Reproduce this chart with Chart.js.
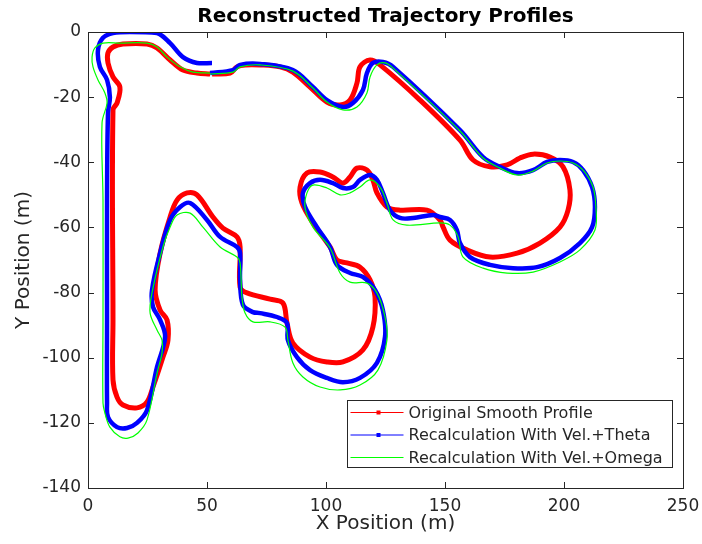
<!DOCTYPE html>
<html>
<head>
<meta charset="utf-8">
<script src="https://cdn.jsdelivr.net/npm/chart.js@4/dist/chart.umd.min.js"></script>
<style>
	html, body { margin: 0; padding: 0; background: #fff; }
	#wrap { width: 702px; height: 544px; }
</style>
</head>
<body>
<div id="wrap"><canvas id="trayectoria" width="702" height="544"></canvas></div>
<script>
// ejes
var xTicks = [0, 50, 100, 150, 200, 250];
var yTicks = [0, -20, -40, -60, -80, -100, -120, -140];

// perfil original (rojo)
var origX = [52.1, 59.7, 62.6, 66.0, 72.3, 80.7, 86.1, 93.3, 100.4, 105.9, 110.1, 113.0, 114.3, 118.5, 122.7, 139.5, 156.3, 161.8, 168.9, 176.1, 181.5, 187.0, 194.1, 199.6, 202.5, 201.7, 198.3, 189.9, 180.3, 168.9, 159.2, 152.1, 149.2, 147.9, 142.4, 131.1, 125.6, 121.4, 119.7, 117.2, 113.0, 110.1, 107.1, 102.9, 97.5, 92.0, 89.1, 89.9, 94.5, 101.7, 104.6, 108.8, 114.3, 118.5, 120.6, 119.7, 115.5, 107.1, 100.4, 93.3, 86.1, 83.6, 81.9, 76.5, 66.8, 63.9, 63.9, 62.6, 56.7, 52.5, 45.8, 41.6, 37.4, 34.5, 30.3, 28.2, 30.3, 33.2, 33.6, 31.5, 27.3, 24.8, 20.6, 14.7, 12.2, 10.5, 10.5, 10.5, 12.2, 13.4, 10.5, 8.4, 8.4, 10.5, 14.7, 24.8, 29.0, 34.5, 39.9, 45.8, 51.3];
var origY = [-12.9, -12.6, -10.7, -10.1, -10.1, -10.7, -12.3, -16.9, -21.5, -22.4, -20.9, -15.7, -10.7, -8.6, -10.1, -20.9, -33.2, -39.3, -41.4, -40.8, -38.7, -37.5, -38.4, -41.4, -48.5, -54.7, -59.9, -64.8, -67.9, -69.1, -66.9, -63.9, -59.9, -57.7, -54.7, -54.7, -53.7, -49.4, -45.4, -42.4, -41.8, -44.5, -46.4, -44.5, -43.0, -43.3, -47.6, -52.5, -58.6, -66.0, -70.0, -70.9, -72.2, -76.1, -81.4, -90.6, -97.6, -101.3, -101.3, -99.8, -95.5, -89.3, -83.2, -82.0, -80.1, -78.3, -66.0, -62.9, -60.2, -56.8, -50.0, -49.4, -51.6, -56.8, -67.9, -79.2, -85.4, -88.4, -94.6, -99.8, -109.0, -113.6, -115.4, -114.5, -112.1, -106.8, -88.4, -23.9, -21.8, -16.9, -13.8, -9.5, -6.4, -4.6, -3.7, -3.7, -4.9, -8.6, -11.7, -12.6, -12.9];

// recalculo con vel + theta (azul)
var thetaX = [51.3, 60.9, 63.9, 72.3, 86.1, 94.5, 100.4, 107.1, 111.3, 115.5, 117.2, 119.7, 123.9, 128.2, 156.3, 166.0, 173.1, 180.3, 187.0, 192.9, 198.3, 203.8, 208.0, 211.8, 213.0, 211.8, 206.7, 198.3, 188.7, 178.6, 168.9, 160.5, 156.3, 155.0, 152.1, 147.9, 145.0, 136.6, 131.1, 126.9, 123.9, 121.4, 118.5, 114.3, 111.3, 107.1, 102.9, 97.5, 93.3, 90.3, 91.2, 96.2, 101.7, 104.6, 110.1, 115.5, 120.6, 123.9, 124.8, 121.4, 114.3, 107.1, 100.4, 93.3, 87.8, 84.0, 83.6, 79.4, 72.3, 69.3, 65.1, 63.9, 63.9, 62.6, 55.5, 50.0, 42.9, 38.7, 34.5, 30.3, 26.9, 27.3, 30.3, 32.4, 29.0, 24.8, 20.6, 16.4, 12.2, 8.4, 8.0, 8.0, 8.0, 8.4, 9.2, 8.0, 5.0, 4.2, 6.3, 10.5, 17.6, 29.0, 34.5, 39.9, 45.8, 52.1];
var thetaY = [-12.6, -11.7, -10.1, -9.8, -11.7, -16.9, -20.9, -23.0, -21.8, -17.8, -12.6, -9.5, -9.2, -10.7, -30.1, -38.4, -41.4, -43.3, -42.4, -39.9, -39.3, -39.9, -42.4, -47.6, -53.7, -59.9, -64.8, -69.4, -72.2, -72.5, -71.5, -69.1, -64.8, -60.8, -57.7, -56.8, -56.2, -57.1, -57.1, -54.7, -49.4, -45.4, -43.9, -45.4, -47.6, -47.9, -46.4, -45.4, -46.4, -49.4, -53.7, -59.9, -66.0, -71.5, -74.0, -75.2, -79.2, -85.4, -93.6, -101.6, -106.2, -107.5, -106.2, -103.8, -99.8, -94.6, -89.3, -87.5, -86.3, -86.0, -83.8, -76.1, -67.9, -66.0, -62.9, -57.7, -52.5, -53.7, -57.7, -67.9, -79.2, -84.4, -88.4, -93.6, -102.9, -116.1, -120.0, -121.6, -121.3, -118.2, -113.9, -88.4, -51.6, -24.9, -20.0, -14.7, -10.7, -5.5, -1.8, -0.3, 0, -0.3, -3.4, -7.7, -9.5, -9.5];

// recalculo con vel + omega (verde)
var omegaX = [51.3, 60.9, 63.9, 72.3, 86.1, 94.5, 100.4, 107.1, 113.0, 117.2, 118.5, 121.4, 124.8, 128.2, 156.3, 166.0, 173.1, 180.3, 187.0, 192.9, 198.3, 203.8, 208.4, 212.2, 213.4, 213.0, 206.7, 198.3, 187.0, 176.1, 166.0, 157.6, 155.5, 152.1, 147.9, 134.0, 128.2, 125.6, 122.7, 118.5, 114.3, 110.1, 105.9, 100.4, 94.5, 92.0, 91.2, 94.5, 101.7, 105.9, 110.1, 117.2, 121.4, 124.8, 125.6, 121.8, 114.3, 105.9, 97.5, 90.3, 86.1, 84.0, 82.8, 76.5, 69.3, 66.0, 64.7, 63.9, 62.6, 55.5, 48.3, 42.9, 37.4, 34.5, 31.5, 26.9, 26.1, 29.0, 31.1, 31.1, 29.0, 24.8, 21.0, 16.8, 13.4, 9.2, 7.1, 6.3, 6.3, 6.3, 5.9, 8.0, 7.1, 4.2, 2.1, 1.7, 2.9, 6.3, 13.4, 24.8, 29.0, 33.2, 38.7, 44.1, 51.3];
var omegaY = [-12.9, -12.3, -10.7, -10.1, -12.0, -17.2, -21.5, -23.9, -23.0, -18.7, -13.8, -10.1, -9.5, -11.1, -30.4, -38.7, -41.8, -43.9, -42.7, -40.2, -39.6, -40.2, -42.7, -47.6, -53.7, -60.8, -66.9, -70.6, -73.7, -74.0, -72.5, -69.1, -62.9, -59.3, -58.6, -59.3, -57.7, -52.5, -47.6, -45.4, -47.6, -49.4, -50.0, -47.9, -47.0, -49.4, -54.0, -59.9, -66.3, -74.0, -76.8, -77.1, -80.1, -87.5, -94.6, -103.8, -108.4, -109.9, -109.0, -105.9, -101.6, -94.6, -90.6, -89.0, -89.0, -86.3, -81.4, -70.9, -69.1, -66.0, -59.9, -55.6, -56.2, -59.9, -66.0, -80.1, -86.3, -91.5, -94.6, -98.6, -104.7, -119.1, -123.1, -124.7, -124.3, -121.3, -117.0, -113.9, -88.4, -51.6, -27.9, -21.8, -18.7, -14.7, -10.7, -7.7, -4.9, -3.4, -3.4, -3.4, -4.6, -7.7, -10.7, -12.3, -12.6];

var etiquetas = ["Original Smooth Profile", "Recalculation With Vel.+Theta", "Recalculation With Vel.+Omega"];
var colores = ["#ff0000", "#0000ff", "#00ff00"];

function puntos(xs, ys) {
	var res = [];
	for (var i = 0; i < xs.length; i++) res.push({x: xs[i], y: ys[i]});
	return res;
}

var grisEje = "#262626";
var fuente = "'DejaVu Sans', sans-serif";

// caja y marcas hacia dentro, estilo MATLAB
var cajaPlugin = {
	id: 'caja',
	afterDatasetsDraw: function(chart) {
		var ctx = chart.ctx, a = chart.chartArea;
		var sx = chart.scales.x, sy = chart.scales.y;
		var largo = 6;
		ctx.save();
		ctx.strokeStyle = grisEje;
		ctx.lineWidth = 1;
		ctx.beginPath();
		for (var i = 0; i < xTicks.length; i++) {
			var px = Math.round(sx.getPixelForValue(xTicks[i])) + 0.5;
			ctx.moveTo(px, a.bottom); ctx.lineTo(px, a.bottom - largo);
			ctx.moveTo(px, a.top); ctx.lineTo(px, a.top + largo);
		}
		for (var j = 0; j < yTicks.length; j++) {
			var py = Math.round(sy.getPixelForValue(yTicks[j])) + 0.5;
			ctx.moveTo(a.left, py); ctx.lineTo(a.left + largo, py);
			ctx.moveTo(a.right, py); ctx.lineTo(a.right - largo, py);
		}
		ctx.stroke();
		ctx.strokeRect(Math.round(a.left) + 0.5, Math.round(a.top) + 0.5, Math.round(a.right - a.left), Math.round(a.bottom - a.top));

		// leyenda
		var w = 325, h = 67;
		var lx = Math.round(a.right) - 11 - w + 0.5, ly = Math.round(a.bottom) - 21 - h + 0.5;
		ctx.fillStyle = "#fff";
		ctx.fillRect(lx, ly, w, h);
		ctx.strokeRect(lx, ly, w, h);
		ctx.font = "16px " + fuente;
		ctx.textBaseline = "middle";
		ctx.textAlign = "left";
		for (var k = 0; k < etiquetas.length; k++) {
			var cy = ly + 12 + k * 22.5;
			ctx.strokeStyle = colores[k];
			ctx.beginPath();
			ctx.moveTo(lx + 3, cy); ctx.lineTo(lx + 56, cy);
			ctx.stroke();
			if (k < 2) {
				ctx.fillStyle = colores[k];
				ctx.fillRect(lx + 29, cy - 2, 4, 4);
			}
			ctx.fillStyle = grisEje;
			ctx.fillText(etiquetas[k], lx + 61, cy + 1);
		}
		ctx.restore();
	}
};

var grafica = new Chart(document.getElementById('trayectoria'), {
	type: 'scatter',
	data: {
		datasets: [{
			label: etiquetas[0],
			data: puntos(origX, origY),
			showLine: true,
			borderColor: colores[0],
			backgroundColor: colores[0],
			borderWidth: 5,
			pointRadius: 0,
			tension: 0.35,
			order: 3
		}, {
			label: etiquetas[1],
			data: puntos(thetaX, thetaY),
			showLine: true,
			borderColor: colores[1],
			backgroundColor: colores[1],
			borderWidth: 4.5,
			pointRadius: 0,
			tension: 0.35,
			order: 2
		}, {
			label: etiquetas[2],
			data: puntos(omegaX, omegaY),
			showLine: true,
			borderColor: colores[2],
			backgroundColor: colores[2],
			borderWidth: 1.2,
			pointRadius: 0,
			tension: 0.35,
			order: 1
		}]
	},
	options: {
		responsive: false,
		animation: false,
		layout: { padding: { left: 0, right: 19, top: 0, bottom: 0 } },
		plugins: {
			legend: { display: false },
			tooltip: { enabled: false },
			title: {
				display: true,
				text: "Reconstructed Trajectory Profiles",
				fullSize: false,
				color: "#000",
				font: { family: fuente, size: 20, weight: 'bold' },
				padding: { top: 5, bottom: 3 }
			}
		},
		scales: {
			x: {
				type: 'linear',
				min: 0, max: 250,
				afterFit: function(s) { s.height = 56; s.paddingRight = 0; s.paddingLeft = 0; },
				afterBuildTicks: function(s) { s.ticks = xTicks.map(function(v) { return {value: v}; }); },
				grid: { display: false, drawTicks: false },
				border: { display: false },
				ticks: { color: grisEje, padding: 8, font: { family: fuente, size: 17 } },
				title: { display: true, text: "X Position (m)", color: grisEje, font: { family: fuente, size: 20 }, padding: { top: 0, bottom: 8.5 } }
			},
			y: {
				type: 'linear',
				min: -140, max: 0,
				afterFit: function(s) { s.width = 88; s.paddingTop = 0; s.paddingBottom = 0; },
				afterBuildTicks: function(s) { s.ticks = yTicks.map(function(v) { return {value: v}; }); },
				grid: { display: false, drawTicks: false },
				border: { display: false },
				ticks: { color: grisEje, padding: 7, font: { family: fuente, size: 17 } },
				title: { display: true, text: "Y Position (m)", color: grisEje, font: { family: fuente, size: 20 }, padding: { top: 12, bottom: 0 } }
			}
		}
	},
	plugins: [cajaPlugin]
});
</script>
</body>
</html>
